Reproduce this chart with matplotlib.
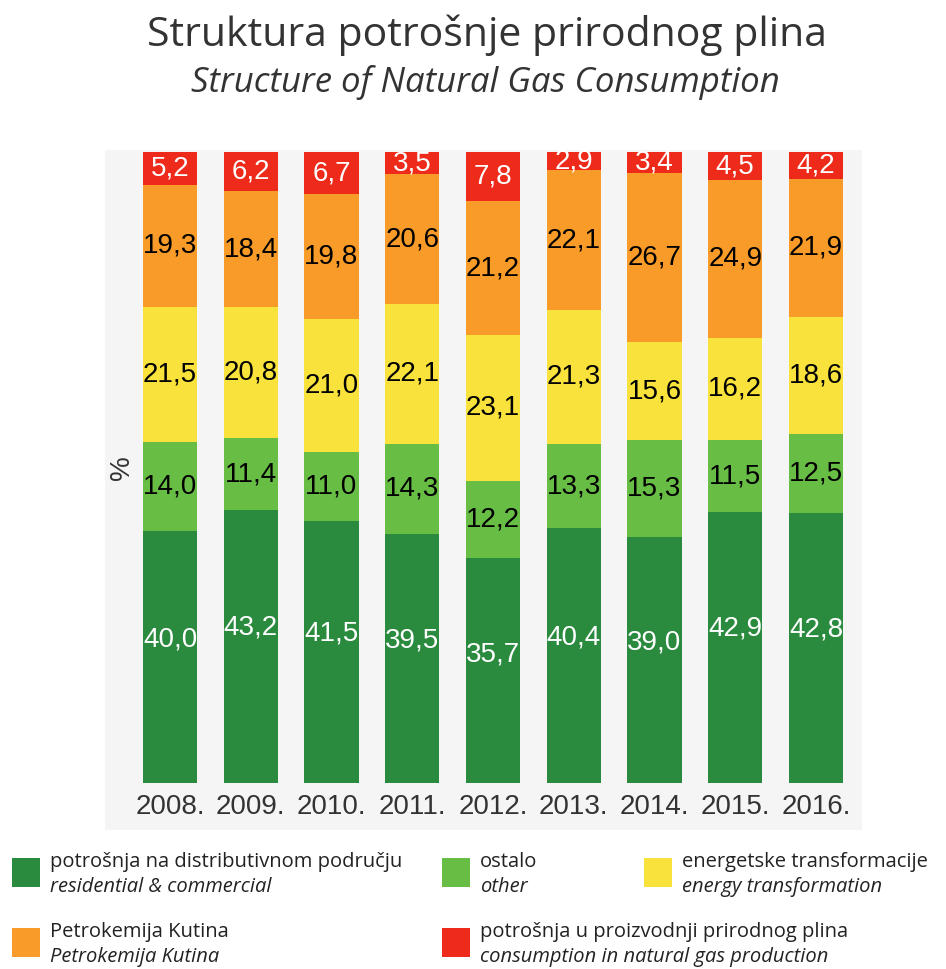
import numpy as np
import matplotlib.pyplot as plt
from matplotlib.patches import Rectangle
from matplotlib import font_manager

years = ['2008.', '2009.', '2010.', '2011.', '2012.', '2013.', '2014.', '2015.', '2016.']
residential = [40.0, 43.2, 41.5, 39.5, 35.7, 40.4, 39.0, 42.9, 42.8]
other = [14.0, 11.4, 11.0, 14.3, 12.2, 13.3, 15.3, 11.5, 12.5]
energy = [21.5, 20.8, 21.0, 22.1, 23.1, 21.3, 15.6, 16.2, 18.6]
petrokemija = [19.3, 18.4, 19.8, 20.6, 21.2, 22.1, 26.7, 24.9, 21.9]
production = [5.2, 6.2, 6.7, 3.5, 7.8, 2.9, 3.4, 4.5, 4.2]

series = [residential, other, energy, petrokemija, production]
colors = ['#2a8a3e', '#68bd45', '#f9e23c', '#f99b28', '#ee2a1b']
text_colors = ['white', 'black', 'black', 'black', 'white']
legend_hr = ['potrošnja na distributivnom području', 'ostalo', 'energetske transformacije',
             'Petrokemija Kutina', 'potrošnja u proizvodnji prirodnog plina']
legend_en = ['residential & commercial', 'other', 'energy transformation',
             'Petrokemija Kutina', 'consumption in natural gas production']

names = {f.name for f in font_manager.fontManager.ttflist}
num_font = 'Liberation Sans Narrow' if 'Liberation Sans Narrow' in names else 'Liberation Sans'

fig = plt.figure(figsize=(9.46, 9.69), dpi=100)
W, H = 946, 969

# light grey panel behind the bars and year labels
fig.patches.append(Rectangle((105 / W, 1 - 830 / H), (862 - 105) / W, (830 - 150) / H,
                             transform=fig.transFigure, facecolor='#f5f5f5', edgecolor='none', zorder=-1))

ax = fig.add_axes([105 / W, 1 - 783 / H, (862 - 105) / W, (783 - 152) / H])
ax.patch.set_alpha(0)
x = np.arange(len(years))
bottom = np.zeros(len(years))
for i, (vals, c, tc) in enumerate(zip(series, colors, text_colors)):
    vals = np.array(vals)
    ax.bar(x, vals, bottom=bottom, width=0.67, color=c, edgecolor='none')
    frac = 0.57 if i == 0 else 0.5
    for xi, b, v in zip(x, bottom, vals):
        ax.text(xi, b + v * frac, f'{v:.1f}'.replace('.', ','), ha='center', va='center',
                fontsize=20, color=tc, family=num_font)
    bottom += vals

ax.set_xlim(-0.805, 8.57)
ax.set_ylim(0, 100)
ax.set_xticks(x)
ax.set_xticklabels(years, fontsize=20, color='#333333', family=num_font)
ax.tick_params(axis='x', length=0, pad=8)
ax.set_yticks([])
for s in ax.spines.values():
    s.set_visible(False)

fig.text(122 / W, 1 - 468 / H, '%', rotation=90, ha='center', va='center',
         fontsize=20, color='#333333', family=num_font)

fig.text(487 / W, 1 - 35 / H, 'Struktura potrošnje prirodnog plina', ha='center', va='center',
         fontsize=29.5, color='#333333', family='Open Sans')
fig.text(485 / W, 1 - 82 / H, 'Structure of Natural Gas Consumption', ha='center', va='center',
         fontsize=25, color='#333333', family='Open Sans', style='italic')

# legend
legend_pos = [(12, 858), (442, 858), (644, 858), (12, 928), (442, 928)]
for (lx, ly), c, hr, en in zip(legend_pos, colors, legend_hr, legend_en):
    fig.patches.append(Rectangle((lx / W, 1 - (ly + 29) / H), 28 / W, 29 / H,
                                 transform=fig.transFigure, facecolor=c, edgecolor='none'))
    fig.text((lx + 38) / W, 1 - (ly + 4) / H, hr, ha='left', va='center', fontsize=14.5,
             color='#222222', family='Open Sans')
    fig.text((lx + 38) / W, 1 - (ly + 29) / H, en, ha='left', va='center', fontsize=14.5,
             color='#222222', family='Open Sans', style='italic')

fig.savefig('out.png', dpi=100, facecolor='white')
